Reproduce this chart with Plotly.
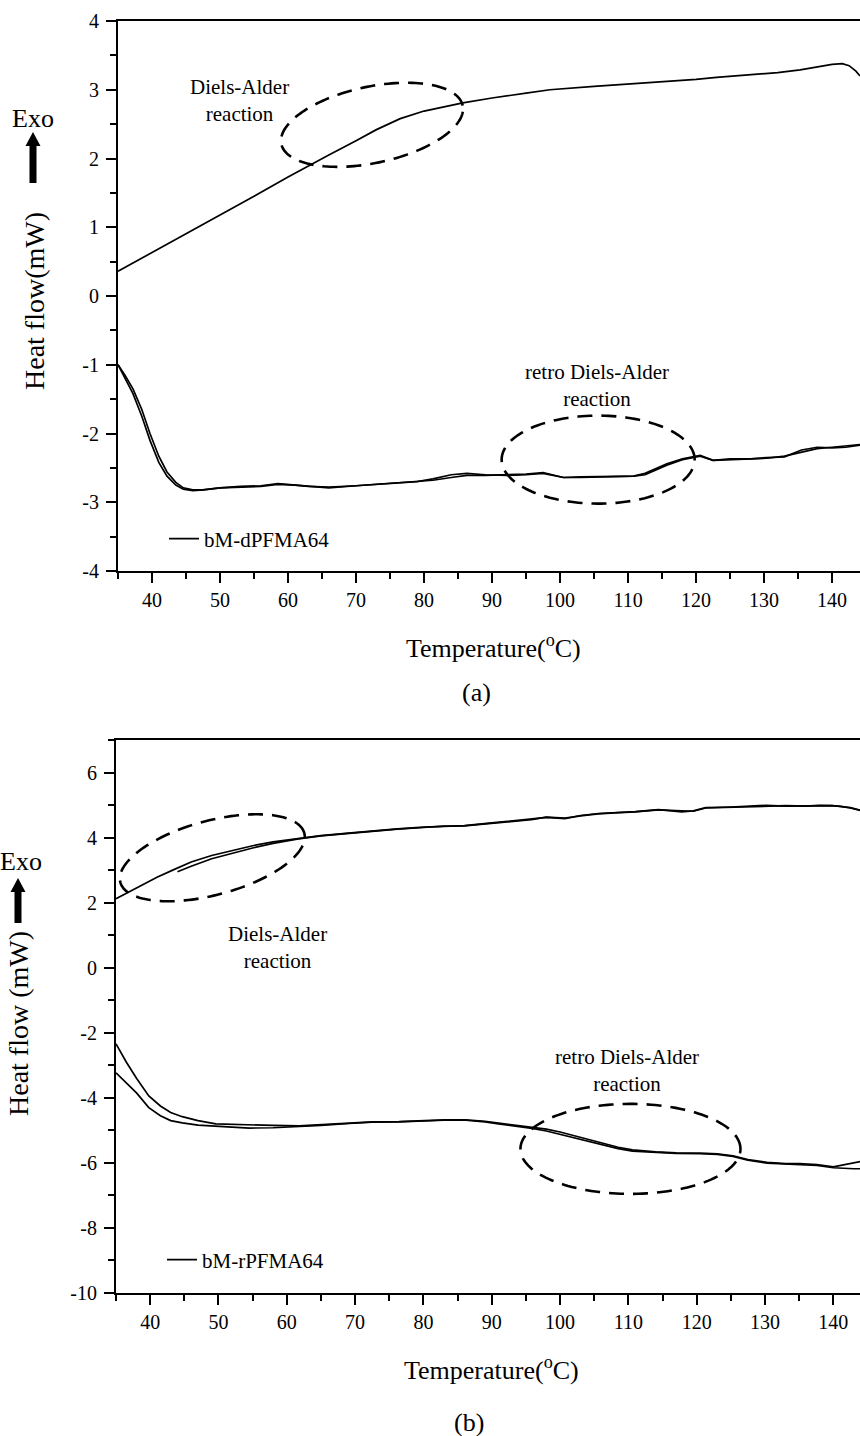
import numpy as np
import plotly.graph_objects as go

# ---------------- DATA ----------------
# Panel (a): bM-dPFMA64
a_up_T = [35, 40, 45, 50, 55, 60, 62, 66, 70, 73, 76.5, 80, 85.7, 90, 95, 98.5, 105, 110.7,
          115, 120, 123, 128, 132, 135.3, 138, 140, 141.5, 142.5, 143.5, 144.1]
a_up_v = [0.36, 0.63, 0.90, 1.18, 1.45, 1.73, 1.84, 2.05, 2.26, 2.42, 2.58, 2.69, 2.81, 2.88,
          2.95, 3.00, 3.05, 3.09, 3.11, 3.15, 3.18, 3.22, 3.25, 3.29, 3.33, 3.37, 3.38, 3.35, 3.27, 3.20]

a_lo_T = [35, 36, 37.2, 38.5, 39.7, 41, 42.2, 43.5, 44.6, 46, 47.5, 50, 53, 56, 58.5, 61, 63, 66,
          70, 73, 76.5, 79, 81.3, 84, 86.3, 89, 92.2, 95, 97.5, 99, 100.5, 103, 106, 110.8, 112.5,
          115.7, 118, 120.6, 122.5, 125, 128, 130.4, 133, 135.5, 137.8, 140, 142, 144.1]
a_lo_v1 = [-1.00, -1.20, -1.42, -1.75, -2.10, -2.42, -2.62, -2.75, -2.81, -2.83, -2.82, -2.79,
           -2.78, -2.77, -2.74, -2.75, -2.77, -2.78, -2.76, -2.74, -2.72, -2.70, -2.68, -2.64,
           -2.61, -2.61, -2.60, -2.59, -2.57, -2.60, -2.64, -2.64, -2.63, -2.62, -2.60, -2.46,
           -2.38, -2.33, -2.39, -2.38, -2.36, -2.36, -2.33, -2.27, -2.22, -2.20, -2.18, -2.16]
a_lo_v2 = [-1.00, -1.15, -1.35, -1.65, -2.00, -2.33, -2.56, -2.71, -2.79, -2.82, -2.82, -2.79,
           -2.77, -2.76, -2.73, -2.75, -2.77, -2.79, -2.76, -2.74, -2.72, -2.70, -2.66, -2.60,
           -2.58, -2.60, -2.61, -2.60, -2.58, -2.61, -2.64, -2.63, -2.63, -2.62, -2.58, -2.44,
           -2.37, -2.32, -2.39, -2.37, -2.37, -2.35, -2.34, -2.24, -2.20, -2.21, -2.20, -2.17]

# Panel (b): bM-rPFMA64
b_up_T1 = [35, 38, 41, 43.3, 46, 49, 51.9, 55, 58, 61.7, 65, 69, 72, 76.2, 80, 83, 86, 90, 93,
           95.8, 98, 100.7, 103, 105.6, 108, 111, 114.4, 117.8, 119.5, 121.3, 125, 128, 130.1,
           133, 136, 138, 139.8, 141, 142.5, 144.1]
b_up_v1 = [2.12, 2.45, 2.78, 3.00, 3.25, 3.45, 3.60, 3.75, 3.87, 3.98, 4.06, 4.14, 4.20, 4.27,
           4.32, 4.35, 4.37, 4.45, 4.52, 4.58, 4.62, 4.58, 4.68, 4.74, 4.76, 4.80, 4.86, 4.79,
           4.82, 4.92, 4.94, 4.96, 4.99, 4.97, 4.98, 4.99, 4.98, 4.96, 4.92, 4.83]
b_up_T2 = [44, 46, 49, 51.9, 55, 58, 61.7, 65, 69, 72, 76.2, 80, 83, 86, 90, 93, 95.8, 98,
           100.7, 103, 105.6, 108, 111, 114.4, 117.8, 119.5, 121.3, 125, 128, 130.1, 133, 136,
           138, 139.8, 141, 142.5, 144.1]
b_up_v2 = [2.95, 3.12, 3.35, 3.52, 3.68, 3.82, 3.96, 4.05, 4.13, 4.19, 4.26, 4.31, 4.35, 4.36,
           4.44, 4.51, 4.55, 4.63, 4.60, 4.67, 4.73, 4.76, 4.79, 4.85, 4.81, 4.81, 4.91, 4.93,
           4.95, 4.97, 4.98, 4.97, 4.99, 4.98, 4.96, 4.91, 4.83]

b_lo_T = [35, 36.5, 38, 39.8, 41.5, 43, 44.7, 47, 49.6, 52, 54.5, 58, 61.8, 65, 69.1, 72.5, 76.4,
          80, 83, 86.2, 89, 91, 93.5, 95.9, 98, 100, 103.3, 106, 108.5, 110.6, 114, 117, 120.5,
          123, 125.3, 127.5, 130.3, 133, 135, 137.6, 140, 141.5, 143, 144.1]
b_lo_v1 = [-2.34, -2.90, -3.40, -3.94, -4.25, -4.45, -4.58, -4.70, -4.80, -4.82, -4.83, -4.85,
           -4.86, -4.82, -4.77, -4.74, -4.73, -4.70, -4.68, -4.68, -4.72, -4.78, -4.84, -4.90,
           -4.96, -5.05, -5.22, -5.38, -5.52, -5.60, -5.66, -5.69, -5.70, -5.72, -5.78, -5.90,
           -5.98, -6.02, -6.02, -6.05, -6.12, -6.05, -5.98, -5.95]
b_lo_v2 = [-3.23, -3.55, -3.85, -4.30, -4.55, -4.70, -4.77, -4.84, -4.87, -4.90, -4.93, -4.92,
           -4.89, -4.85, -4.79, -4.75, -4.74, -4.71, -4.69, -4.69, -4.74, -4.80, -4.87, -4.94,
           -5.02, -5.12, -5.28, -5.43, -5.56, -5.64, -5.68, -5.71, -5.72, -5.74, -5.80, -5.92,
           -6.01, -6.04, -6.05, -6.08, -6.15, -6.17, -6.18, -6.18]

# Tick values / labels
x_tickvals = [40, 50, 60, 70, 80, 90, 100, 110, 120, 130, 140]
x_ticktext = ["40", "50", "60", "70", "80", "90", "100", "110", "120", "130", "140"]
ya_tickvals = [-4, -3, -2, -1, 0, 1, 2, 3, 4]
ya_ticktext = ["-4", "-3", "-2", "-1", "0", "1", "2", "3", "4"]
yb_tickvals = [-10, -8, -6, -4, -2, 0, 2, 4, 6]
yb_ticktext = ["-10", "-8", "-6", "-4", "-2", "0", "2", "4", "6"]

legend_a = "bM-dPFMA64"
legend_b = "bM-rPFMA64"

# ---------------- LAYOUT HELPERS ----------------
W, H = 860, 1436
FONT = "Liberation Serif"


def paper(x, y):
    return x / W, 1 - y / H


XA_RANGE = [35, 144.1]
YA_RANGE = [-4, 4]
XB_RANGE = [35, 143.9]
YB_RANGE = [-10, 7]
A_BOX = (118, 21, 860, 571)   # left, top, right, bottom in px
B_BOX = (116, 740, 860, 1293)


def scale(box, xr, yr):
    return (box[2] - box[0]) / (xr[1] - xr[0]), (box[3] - box[1]) / (yr[1] - yr[0])


def ellipse_path(cx, cy, a_px, b_px, ang, sx, sy, n=160):
    t = np.linspace(0, 2 * np.pi, n)
    th = np.radians(ang)
    dx = a_px * np.cos(t) * np.cos(th) - b_px * np.sin(t) * np.sin(th)
    dy = a_px * np.cos(t) * np.sin(th) + b_px * np.sin(t) * np.cos(th)
    xs = cx + dx / sx
    ys = cy + dy / sy
    return "M " + " L ".join(f"{x:.4f},{y:.4f}" for x, y in zip(xs, ys)) + " Z"


def arrow_path(cx, tip, tail, head_len=14, head_hw=7.5, shaft_hw=3.5):
    pts = [(cx, tip), (cx + head_hw, tip + head_len), (cx + shaft_hw, tip + head_len),
           (cx + shaft_hw, tail), (cx - shaft_hw, tail), (cx - shaft_hw, tip + head_len),
           (cx - head_hw, tip + head_len)]
    pp = [paper(x, y) for x, y in pts]
    return "M " + " L ".join(f"{x:.5f},{y:.5f}" for x, y in pp) + " Z"


line_style = dict(color="black", width=1.7)

fig = go.Figure()
# panel a
fig.add_trace(go.Scatter(x=a_lo_T, y=a_lo_v1, mode="lines", line=line_style, name=legend_a,
                         xaxis="x", yaxis="y", legend="legend", showlegend=True))
fig.add_trace(go.Scatter(x=a_lo_T, y=a_lo_v2, mode="lines", line=line_style, name=legend_a,
                         xaxis="x", yaxis="y", showlegend=False))
fig.add_trace(go.Scatter(x=a_up_T, y=a_up_v, mode="lines", line=line_style, name=legend_a,
                         xaxis="x", yaxis="y", showlegend=False))
# panel b
fig.add_trace(go.Scatter(x=b_lo_T, y=b_lo_v1, mode="lines", line=line_style, name=legend_b,
                         xaxis="x2", yaxis="y2", legend="legend2", showlegend=True))
fig.add_trace(go.Scatter(x=b_lo_T, y=b_lo_v2, mode="lines", line=line_style, name=legend_b,
                         xaxis="x2", yaxis="y2", showlegend=False))
fig.add_trace(go.Scatter(x=b_up_T1, y=b_up_v1, mode="lines", line=line_style, name=legend_b,
                         xaxis="x2", yaxis="y2", showlegend=False))
fig.add_trace(go.Scatter(x=b_up_T2, y=b_up_v2, mode="lines", line=line_style, name=legend_b,
                         xaxis="x2", yaxis="y2", showlegend=False))

tickfont = dict(family=FONT, size=20, color="black")


def xaxis(box, rng, anchor):
    return dict(domain=[box[0] / W, box[2] / W], range=rng, anchor=anchor,
                showline=True, linecolor="black", linewidth=2, mirror=True,
                ticks="outside", ticklen=10, tickwidth=2, tickcolor="black",
                tickvals=x_tickvals, ticktext=x_ticktext, tickfont=tickfont,
                showgrid=False, zeroline=False, ticklabelstandoff=0, automargin=False,
                minor=dict(ticks="outside", ticklen=6, tickwidth=2, tickcolor="black",
                           tick0=35, dtick=5, showgrid=False))


def yaxis(box, rng, anchor, tv, tt, mdt):
    return dict(domain=[1 - box[3] / H, 1 - box[1] / H], range=rng, anchor=anchor,
                showline=True, linecolor="black", linewidth=2, mirror=False,
                ticks="outside", ticklen=10, tickwidth=2, tickcolor="black",
                tickvals=tv, ticktext=tt, tickfont=tickfont,
                showgrid=False, zeroline=False, ticklabelstandoff=3, automargin=False,
                minor=dict(ticks="outside", ticklen=6, tickwidth=2, tickcolor="black",
                           tick0=0, dtick=mdt, showgrid=False))


sxa, sya = scale(A_BOX, XA_RANGE, YA_RANGE)
sxb, syb = scale(B_BOX, XB_RANGE, YB_RANGE)

dash = "15px,9px"
ell_line = dict(color="black", width=2.6, dash=dash)
shapes = [
    dict(type="path", xref="x", yref="y", path=ellipse_path(72.35, 2.49, 92.7, 38.2, 12, sxa, sya),
         line=ell_line),
    dict(type="path", xref="x", yref="y", path=ellipse_path(105.6, -2.38, 96.5, 44, 0, sxa, sya),
         line=ell_line),
    dict(type="path", xref="x2", yref="y2", path=ellipse_path(49.1, 3.38, 95.2, 37.1, 15, sxb, syb),
         line=ell_line),
    dict(type="path", xref="x2", yref="y2", path=ellipse_path(110.3, -5.57, 110, 45, 0, sxb, syb),
         line=ell_line),
    dict(type="path", xref="paper", yref="paper", path=arrow_path(33, 132, 183),
         fillcolor="black", line=dict(width=0)),
    dict(type="path", xref="paper", yref="paper", path=arrow_path(18, 878, 923),
         fillcolor="black", line=dict(width=0)),
]

ann_font = dict(family=FONT, size=21, color="black")
title_font = dict(family=FONT, size=26, color="black")
ytitle_font = dict(family=FONT, size=28, color="black")
annotations = [
    dict(xref="x", yref="y", x=52.8, y=2.84, text="Diels-Alder<br>reaction", showarrow=False,
         font=ann_font),
    dict(xref="x", yref="y", x=105.4, y=-1.30, text="retro Diels-Alder<br>reaction", showarrow=False,
         font=ann_font),
    dict(xref="x2", yref="y2", x=58.6, y=0.62, text="Diels-Alder<br>reaction", showarrow=False,
         font=ann_font),
    dict(xref="x2", yref="y2", x=109.8, y=-3.17, text="retro Diels-Alder<br>reaction", showarrow=False,
         font=ann_font),
]


def add_text(px_x, px_y, text, font, angle=0):
    x, y = paper(px_x, px_y)
    annotations.append(dict(xref="paper", yref="paper", x=x, y=y, text=text, showarrow=False,
                            font=font, textangle=angle, xanchor="center", yanchor="middle"))


add_text(493, 646, "Temperature(<sup>o</sup>C)", title_font)
add_text(476, 692, "(a)", title_font)
add_text(492, 1368, "Temperature(<sup>o</sup>C)", title_font)
add_text(469, 1422, "(b)", title_font)
add_text(35, 301, "Heat flow(mW)", ytitle_font, -90)
add_text(18, 1024, "Heat flow (mW)", ytitle_font, -90)
add_text(33, 119, "Exo", title_font)
add_text(21, 861, "Exo", title_font)

lx, ly = paper(164, 539)
lx2, ly2 = paper(162, 1260)
legend_common = dict(font=dict(family=FONT, size=21, color="black"), bgcolor="rgba(0,0,0,0)",
                     borderwidth=0, xanchor="left", yanchor="middle")

fig.update_layout(
    width=W, height=H,
    margin=dict(l=0, r=0, t=0, b=0, autoexpand=False),
    paper_bgcolor="white", plot_bgcolor="white",
    font=dict(family=FONT, color="black"),
    xaxis=xaxis(A_BOX, XA_RANGE, "y"),
    yaxis=yaxis(A_BOX, YA_RANGE, "x", ya_tickvals, ya_ticktext, 0.5),
    xaxis2=xaxis(B_BOX, XB_RANGE, "y2"),
    yaxis2=yaxis(B_BOX, YB_RANGE, "x2", yb_tickvals, yb_ticktext, 1),
    legend=dict(x=lx, y=ly, **legend_common),
    legend2=dict(x=lx2, y=ly2, **legend_common),
    shapes=shapes,
    annotations=annotations,
)

fig.write_html("out.html", config={"displayModeBar": False},
               post_script="document.body.style.margin='0px';")
